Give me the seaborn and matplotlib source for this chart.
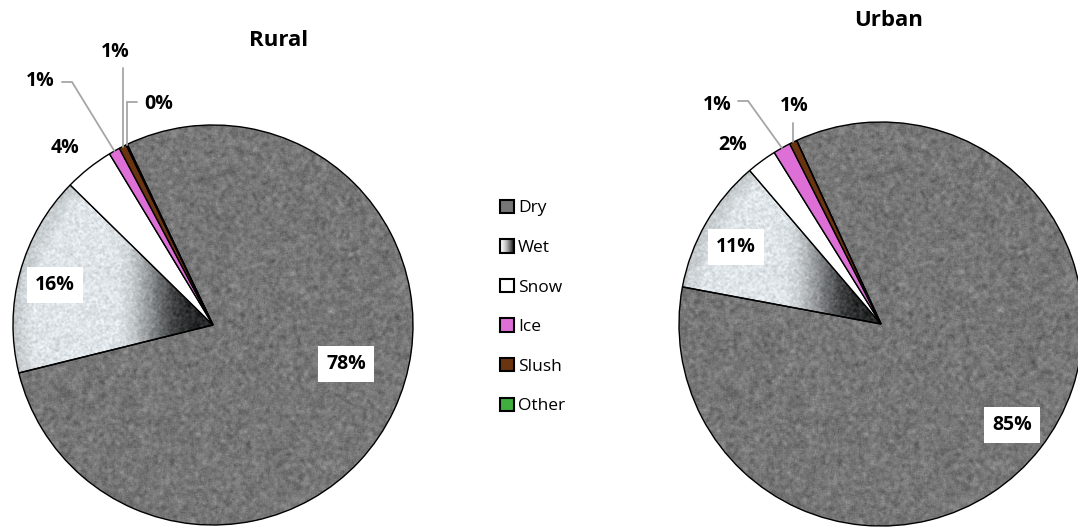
import numpy as np
import matplotlib
matplotlib.use("Agg")
import matplotlib.pyplot as plt
import seaborn as sns
from matplotlib.patches import Rectangle
from matplotlib.legend_handler import HandlerBase

# ---------------- data ----------------
categories = ["Dry", "Wet", "Snow", "Ice", "Slush", "Other"]
rural_values = [78.2, 16.2, 4.0, 0.9, 0.6, 0.1]
urban_values = [84.8, 10.8, 2.4, 1.4, 0.6, 0.0]
panel_titles = ["Rural", "Urban"]

# ---------------- style ----------------
sns.set_theme(style="white")
plt.rcParams["font.family"] = ["Open Sans", "DejaVu Sans"]

palette = sns.color_palette(["#767676", "#c9ced2", "#ffffff", "#dd6fd6", "#6b3410", "#3fae3f"])

W, H = 1078, 529
fig = plt.figure(figsize=(W / 100, H / 100), dpi=100)
fig.patch.set_facecolor("white")

# textures (pure styling)
N = 500
def smooth_noise(seed, k):
    rng = np.random.default_rng(seed)
    a = rng.normal(0, 1, (N, N))
    out = np.zeros_like(a)
    c = 0
    for dy in range(-k, k + 1):
        for dx in range(-k, k + 1):
            out += np.roll(np.roll(a, dy, 0), dx, 1)
            c += 1
    out /= c
    return out / out.std()

fine = np.random.default_rng(1).normal(0, 1, (N, N))
coarse = smooth_noise(2, 2)
asphalt = 0.465 + 0.035 * coarse + 0.03 * fine
spk = np.random.default_rng(4).random((N, N))
asphalt[spk > 0.995] -= 0.12
asphalt[spk < 0.004] += 0.10
asphalt = np.clip(asphalt, 0, 1)
asphalt_rgb = np.dstack([asphalt, asphalt, asphalt])

xs = np.linspace(-1, 1, N)
X, Y = np.meshgrid(xs, xs[::-1])
t = np.clip((X + 0.50) / 0.40, 0, 1)
s = t * t * (3 - 2 * t)
edge_dark = np.clip((np.hypot(X, Y) - 0.9) / 0.1, 0, 1) * 0.12
wet = 0.91 - 0.75 * s - edge_dark + 0.035 * smooth_noise(5, 1) + 0.02 * fine
wet = np.clip(wet, 0.05, 1)
wet_rgb = np.clip(np.dstack([wet * 0.96, wet * 0.985, wet * 1.0]), 0, 1)

# label layout (positions in pie units, radius = 1)
LAYOUT = {
    "Rural": {
        "Dry": dict(kind="in", pos=(0.665, -0.195)),
        "Wet": dict(kind="in", pos=(-0.79, 0.20)),
        "Snow": dict(kind="out", pos=(-0.74, 0.885)),
        "Ice": dict(kind="leader", pos=(-0.865, 1.22), path=[(-0.705, 1.215), (-0.755, 1.215)]),
        "Slush": dict(kind="leader", pos=(-0.49, 1.365), path=[(None, 1.285)]),
        "Other": dict(kind="leader", pos=(-0.27, 1.105), path=[(None, 1.115), (-0.38, 1.115)]),
    },
    "Urban": {
        "Dry": dict(kind="in", pos=(0.65, -0.50)),
        "Wet": dict(kind="in", pos=(-0.718, 0.381)),
        "Snow": dict(kind="out", pos=(-0.733, 0.886)),
        "Ice": dict(kind="leader", pos=(-0.812, 1.084), path=[(-0.658, 1.104), (-0.708, 1.104)]),
        "Slush": dict(kind="leader", pos=(-0.431, 1.079), path=[(None, 0.995)]),
        "Other": dict(kind=None),
    },
}

# (center_x_px, center_y_px_from_top, radius_px, startangle, title_x_px, title_y_px)
PANELS = {
    "Rural": (213, 325, 200, 115.4, 279, 41),
    "Urban": (881, 324, 202, 114.7, 889, 21),
}

label_font = dict(fontsize=14, fontweight="bold", color="black", ha="center", va="center")

for title, values in zip(panel_titles, [rural_values, urban_values]):
    cx, cy, r, start, tx, ty = PANELS[title]
    ax = fig.add_axes([(cx - r) / W, (H - cy - r) / H, 2 * r / W, 2 * r / H])
    wedges, _ = ax.pie(values, colors=palette, startangle=start, counterclock=False,
                       wedgeprops=dict(edgecolor="black", linewidth=1.0))
    ax.set_aspect("equal")
    ax.axis("off")
    for w in wedges:
        w.set_zorder(3)
    # textures for Dry and Wet
    for idx, tex in [(0, asphalt_rgb), (1, wet_rgb)]:
        wedges[idx].set_facecolor("none")
        im = ax.imshow(tex, extent=(-1, 1, -1, 1), zorder=2, interpolation="bilinear")
        im.set_clip_path(wedges[idx])
    ax.set_xlim(-1, 1)
    ax.set_ylim(-1, 1)

    lay = LAYOUT[title]
    for cat, v, w in zip(categories, values, wedges):
        spec = lay[cat]
        if spec["kind"] is None:
            continue
        txt = f"{v:.0f}%"
        px, py = spec["pos"]
        if spec["kind"] == "in":
            ax.text(px, py, txt, zorder=6, clip_on=False,
                    bbox=dict(boxstyle="square,pad=0.42", facecolor="white", edgecolor="none"),
                    **label_font)
        else:
            ax.text(px, py, txt, zorder=6, clip_on=False, **label_font)
            if spec["kind"] == "leader":
                mid = np.deg2rad((w.theta1 + w.theta2) / 2)
                ex, ey = np.cos(mid), np.sin(mid)
                lx, ly = [ex], [ey]
                for qx, qy in spec["path"]:
                    lx.append(ex if qx is None else qx)
                    ly.append(qy)
                ax.plot(lx, ly, color="#a6a6a6", lw=1.3, zorder=5, clip_on=False,
                        solid_joinstyle="miter")

    fig.text(tx / W, 1 - ty / H, title, ha="center", va="center",
             fontsize=16, fontweight="bold", color="black")

# ---------------- legend ----------------
class GradientHandler(HandlerBase):
    def create_artists(self, legend, orig_handle, xdescent, ydescent, width, height, fontsize, trans):
        x0, y0 = -xdescent, -ydescent
        arts = []
        n = 14
        for i in range(n):
            f = i / (n - 1)
            g = 0.97 - 0.9 * f ** 1.6
            arts.append(Rectangle((x0 + i * width / n, y0), width / n + 0.3, height,
                                  facecolor=(g, g, g), edgecolor="none", transform=trans))
        arts.append(Rectangle((x0, y0), width, height, fill=False, edgecolor="black",
                              linewidth=1.5, transform=trans))
        return arts

handles = []
for cat, col in zip(categories, palette):
    handles.append(Rectangle((0, 0), 1, 1, facecolor=col, edgecolor="black", linewidth=1.5))

leg = fig.legend(handles, categories, loc="center left",
                 bbox_to_anchor=(500 / W, 1 - 307 / H), frameon=False,
                 handlelength=0.8, handleheight=0.8, handletextpad=0.25,
                 labelspacing=1.32, borderpad=0, borderaxespad=0, fontsize=12.5,
                 handler_map={handles[1]: GradientHandler()})
for t_ in leg.get_texts():
    t_.set_color("black")

fig.savefig("out.png", dpi=100)
